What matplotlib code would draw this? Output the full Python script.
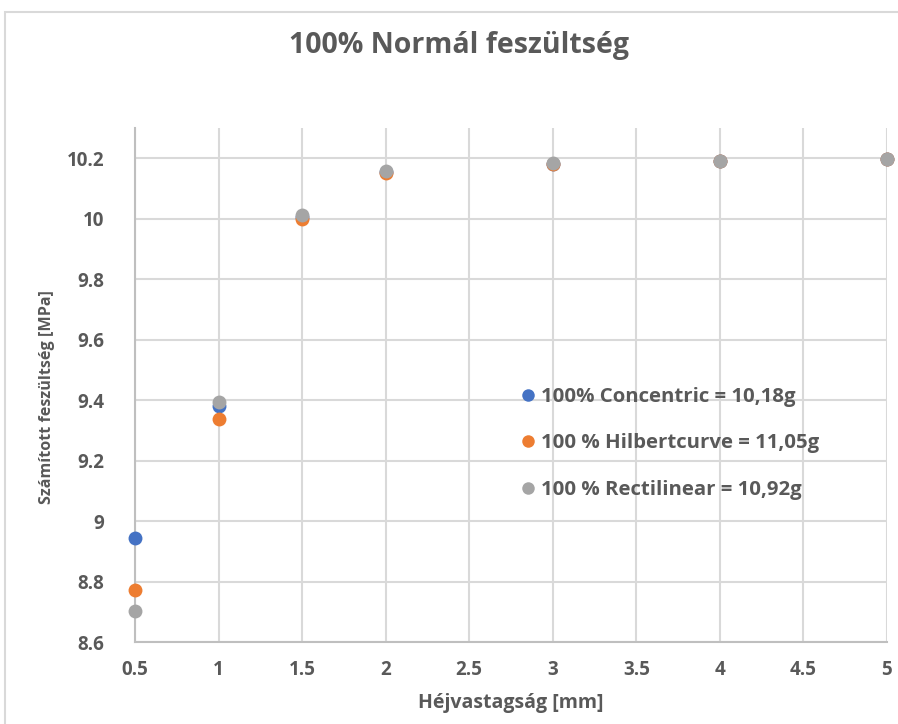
import numpy as np
import matplotlib
matplotlib.use("Agg")
import matplotlib.pyplot as plt
from matplotlib.patches import Rectangle

# data
thickness = [0.5, 1, 1.5, 2, 3, 4, 5]
concentric = [8.944, 9.382, 10.005, 10.155, 10.182, 10.19, 10.198]
hilbert = [8.772, 9.339, 9.998, 10.150, 10.180, 10.19, 10.198]
rectilinear = [8.703, 9.395, 10.012, 10.158, 10.183, 10.191, 10.198]

labels = ["100% Concentric = 10,18g",
          "100 % Hilbertcurve = 11,05g",
          "100 % Rectilinear = 10,92g"]
colors = ["#4472C4", "#ED7D31", "#A5A5A5"]

xticks = [0.5, 1, 1.5, 2, 2.5, 3, 3.5, 4, 4.5, 5]
yticks = [8.6, 8.8, 9, 9.2, 9.4, 9.6, 9.8, 10, 10.2]

txt = "#595959"
plt.rcParams['font.family'] = ['Open Sans', 'DejaVu Sans']

fig = plt.figure(figsize=(8.98, 7.24), dpi=100)
fig.patches.append(Rectangle((5/898, -0.1), 1.1, 1 - 12/724 + 0.1,
                             transform=fig.transFigure, fill=False,
                             edgecolor="#D9D9D9", lw=1.5))

ax = fig.add_axes([135/898, 1 - 642/724, (887 - 135)/898, (642 - 128)/724])

for ys, c, lab in zip([concentric, hilbert, rectilinear], colors, labels):
    ax.plot(thickness, ys, 'o', color=c, ms=10, mec='none', label=lab, clip_on=False, zorder=3)

ax.set_xlim(0.5, 5)
ax.set_ylim(8.6, 10.3)
ax.set_xticks(xticks)
ax.set_xticklabels([("%g" % v) for v in xticks])
ax.set_yticks(yticks)
ax.set_yticklabels([("%g" % v) for v in yticks])
ax.grid(True, color="#D9D9D9", lw=1.5)
ax.set_axisbelow(True)
for s in ["top", "right"]:
    ax.spines[s].set_visible(False)
ax.spines["left"].set_color("#BFBFBF")
ax.spines["bottom"].set_color("#BFBFBF")
ax.spines["left"].set_linewidth(1.5)
ax.spines["bottom"].set_linewidth(1.5)
ax.tick_params(length=0, labelsize=13.5, colors=txt, pad=13)
for t in ax.get_xticklabels() + ax.get_yticklabels():
    t.set_fontweight('bold')
ax.tick_params(axis='y', pad=22)

ax.set_xlabel("Héjvastagság [mm]", fontsize=14, color=txt, fontweight='bold', labelpad=9)
ax.set_ylabel("Számított feszültség [MPa]", fontsize=11.6, color=txt, fontweight='bold')
ax.yaxis.set_label_coords(-0.106, 0.477)

fig.text(459/898, 1 - 46/724, "100% Normál feszültség", ha='center', va='center',
         fontsize=20.5, color=txt, fontweight='bold')

leg = ax.legend(loc='upper left', bbox_to_anchor=(0.485, 0.532), frameon=False,
                fontsize=14.7, handletextpad=0.1, labelspacing=1.3, markerscale=0.9,
                handlelength=1.0)
for t in leg.get_texts():
    t.set_color(txt)
    t.set_fontweight('bold')

fig.savefig("out.png", dpi=100)
